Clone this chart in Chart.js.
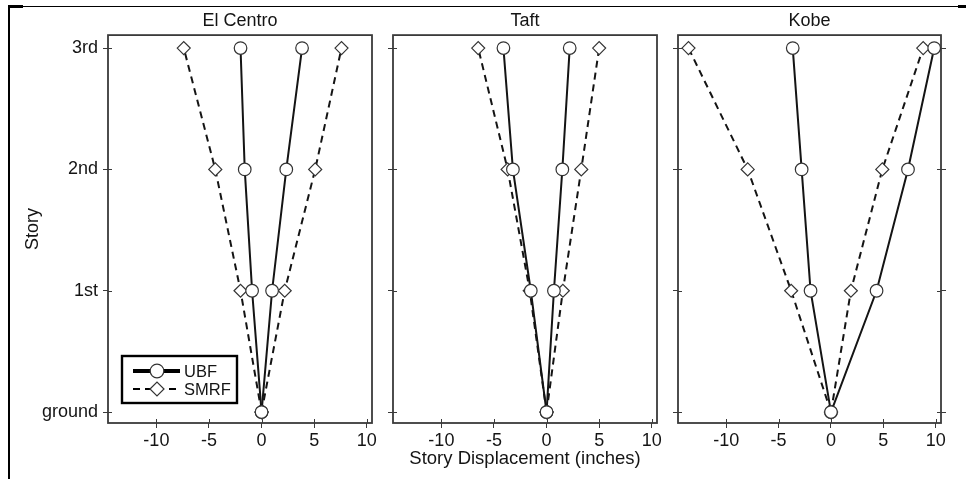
<!DOCTYPE html>
<html><head><meta charset="utf-8">
<script src="https://cdn.jsdelivr.net/npm/chart.js@4.4.1/dist/chart.umd.min.js"></script>
<style>
html,body{margin:0;padding:0;background:#fff;}
#wrap{position:relative;width:966px;height:479px;overflow:hidden;background:#fff;}
canvas{position:absolute;top:0;}
.frame{position:absolute;background:#000;}
</style></head><body>
<div id="wrap">
<div class="frame" style="left:8px;top:6px;width:958px;height:1px;"></div>
<div class="frame" style="left:8px;top:5px;width:15px;height:3px;"></div>
<div class="frame" style="left:958px;top:5px;width:8px;height:3px;"></div>
<div class="frame" style="left:8px;top:5px;width:2px;height:474px;"></div>
<canvas id="c1" width="380" height="479" style="left:0px"></canvas>
<canvas id="c2" width="290" height="479" style="left:380px"></canvas>
<canvas id="c3" width="296" height="479" style="left:670px"></canvas>
</div>
<script>
// ---- data ----
const storyLevels = [0, 1, 2, 3];
const storyLabels = ['ground', '1st', '2nd', '3rd'];
const dispTicks = [-10, -5, 0, 5, 10];
const panelTitles = ['El Centro', 'Taft', 'Kobe'];
const seriesNames = ['UBF', 'SMRF'];

const elCentroUBFneg  = [0, -0.9, -1.6, -2.0];
const elCentroUBFpos  = [0, 1.0, 2.35, 3.85];
const elCentroSMRFneg = [0, -2.0, -4.4, -7.4];
const elCentroSMRFpos = [0, 2.2, 5.1, 7.6];

const taftUBFneg  = [0, -1.5, -3.2, -4.1];
const taftUBFpos  = [0, 0.7, 1.5, 2.2];
const taftSMRFneg = [0, -1.6, -3.7, -6.5];
const taftSMRFpos = [0, 1.55, 3.3, 5.0];

const kobeUBFneg  = [0, -1.95, -2.8, -3.65];
const kobeUBFpos  = [0, 4.35, 7.35, 9.85];
const kobeSMRFneg = [0, -3.8, -7.95, -13.6];
const kobeSMRFpos = [0, 1.9, 4.9, 8.8];

const yAxisTitle = 'Story';
const xAxisTitle = 'Story Displacement (inches)';

// ---- style ----
const FONT = '"Liberation Sans", Arial, sans-serif';
const INK = '#141414';
const FRAME = '#3a3a3a';
const FS = 18;

function pts(vals) { return vals.map((v, i) => ({ x: v, y: storyLevels[i] })); }

function ds(vals, kind) {
  const ubf = kind === seriesNames[0];
  return {
    label: kind, data: pts(vals), showLine: true, fill: false, tension: 0,
    borderColor: INK, borderWidth: 2, borderDash: ubf ? [] : [7, 5],
    pointStyle: ubf ? 'circle' : 'rectRot', pointRadius: ubf ? 6.3 : 6.5,
    pointBackgroundColor: '#fff', pointBorderColor: '#333', pointBorderWidth: 1.2,
    pointHoverRadius: ubf ? 6.3 : 6.5
  };
}

const framePlugin = {
  id: 'panelFrame',
  beforeDatasetsDraw(chart) {
    const { ctx, chartArea: a } = chart;
    ctx.save();
    ctx.strokeStyle = FRAME;
    ctx.lineWidth = 1.8;
    ctx.strokeRect(a.left, a.top, a.right - a.left, a.bottom - a.top);
    ctx.lineWidth = 1;
    ctx.beginPath();
    const xs = chart.scales.x, ys = chart.scales.y;
    xs.ticks.forEach(t => { const p = Math.round(xs.getPixelForValue(t.value)) + 0.5; ctx.moveTo(p, a.bottom); ctx.lineTo(p, a.bottom - 4); });
    ys.ticks.forEach(t => {
      const p = Math.round(ys.getPixelForValue(t.value)) + 0.5;
      ctx.moveTo(a.left, p); ctx.lineTo(a.left + 4, p);
      if (chart.scales.yR) { ctx.moveTo(a.right, p); ctx.lineTo(a.right - 4, p); }
    });
    ctx.stroke();
    ctx.restore();
  }
};

const legendPlugin = {
  id: 'boxLegend',
  afterDraw(chart, args, opts) {
    if (!opts || !opts.show) return;
    const { ctx, chartArea: a } = chart;
    const x0 = a.left + 14, y0 = a.bottom - 67, w = 115, h = 47;
    ctx.save();
    ctx.fillStyle = '#fff';
    ctx.fillRect(x0, y0, w, h);
    ctx.strokeStyle = '#000';
    ctx.lineWidth = 2.4;
    ctx.strokeRect(x0, y0, w, h);
    const entries = [chart.data.datasets[0], chart.data.datasets[2]];
    entries.forEach((d, i) => {
      const y = y0 + 15 + i * 18;
      ctx.beginPath();
      ctx.setLineDash(d.borderDash || []);
      ctx.lineWidth = i === 0 ? 4 : 2;
      ctx.strokeStyle = '#000';
      ctx.moveTo(x0 + 11, y); ctx.lineTo(x0 + 58, y);
      ctx.stroke();
      ctx.setLineDash([]);
      ctx.fillStyle = '#fff';
      ctx.strokeStyle = '#333';
      ctx.lineWidth = 1.2;
      Chart.helpers.drawPoint(ctx, { pointStyle: d.pointStyle, rotation: 0, radius: d.pointRadius + 0.5, borderWidth: 1.2 }, x0 + 35, y);
      ctx.fillStyle = INK;
      ctx.font = '16.5px ' + FONT;
      ctx.textBaseline = 'middle';
      ctx.textAlign = 'left';
      ctx.fillText(d.label, x0 + 62, y + 1);
    });
    ctx.restore();
  }
};

function makePanel(id, title, sets, cfg) {
  const scales = {
    x: {
      type: 'linear', position: 'bottom', min: -14.6, max: 10.5,
      afterBuildTicks: s => { s.ticks = dispTicks.map(v => ({ value: v })); },
      afterFit: s => { s.height = 56; },
      grid: { drawOnChartArea: false, drawTicks: true, tickLength: 5, color: FRAME, lineWidth: 1 },
      border: { display: false },
      ticks: { font: { family: FONT, size: FS }, color: INK, padding: 2, maxRotation: 0, autoSkip: false, callback: v => String(v) },
      title: { display: !!cfg.xTitle, text: cfg.xTitle || '', font: { family: FONT, size: 18.5 }, color: INK, padding: { top: 0, bottom: 9 } }
    },
    y: {
      type: 'linear', position: 'left', min: -0.09, max: 3.107,
      afterBuildTicks: s => { s.ticks = storyLevels.map(v => ({ value: v })); },
      afterFit: s => { s.width = cfg.leftW; },
      grid: { drawOnChartArea: false, drawTicks: true, tickLength: 5, color: FRAME, lineWidth: 1 },
      border: { display: false },
      ticks: { display: !!cfg.yLabels, font: { family: FONT, size: FS }, color: INK, padding: 5, autoSkip: false,
               callback: v => storyLabels[storyLevels.indexOf(v)] },
      title: { display: !!cfg.yTitle, text: cfg.yTitle || '', font: { family: FONT, size: FS }, color: INK, padding: { top: 22, bottom: 0 } }
    }
  };
  if (cfg.rightAxis) {
    scales.yR = {
      type: 'linear', position: 'right', min: -0.09, max: 3.107,
      afterBuildTicks: s => { s.ticks = storyLevels.map(v => ({ value: v })); },
      afterFit: s => { s.width = 10; },
      grid: { drawOnChartArea: false, drawTicks: true, tickLength: 5, color: FRAME, lineWidth: 1 },
      border: { display: false },
      ticks: { display: false }
    };
  }
  return new Chart(document.getElementById(id), {
    type: 'scatter',
    data: { datasets: [ds(sets[0], 'UBF'), ds(sets[1], 'UBF'), ds(sets[2], 'SMRF'), ds(sets[3], 'SMRF')] },
    options: {
      responsive: false, animation: false, events: [],
      layout: { padding: { left: 0, right: cfg.padR, top: 0, bottom: 0 } },
      scales,
      plugins: {
        legend: { display: false },
        tooltip: { enabled: false },
        title: { display: true, text: title, fullSize: false, color: INK, font: { family: FONT, size: FS, weight: 'normal' }, padding: { top: 10, bottom: 3.5 } },
        boxLegend: { show: !!cfg.legend }
      }
    },
    plugins: [framePlugin, legendPlugin]
  });
}

makePanel('c1', panelTitles[0], [elCentroUBFneg, elCentroUBFpos, elCentroSMRFneg, elCentroSMRFpos],
  { leftW: 108, padR: 8, yLabels: true, yTitle: yAxisTitle, legend: true });
makePanel('c2', panelTitles[1], [taftUBFneg, taftUBFpos, taftSMRFneg, taftSMRFpos],
  { leftW: 13, padR: 13, xTitle: xAxisTitle });
makePanel('c3', panelTitles[2], [kobeUBFneg, kobeUBFpos, kobeSMRFneg, kobeSMRFpos],
  { leftW: 8, padR: 15, rightAxis: true });
</script>
</body></html>
